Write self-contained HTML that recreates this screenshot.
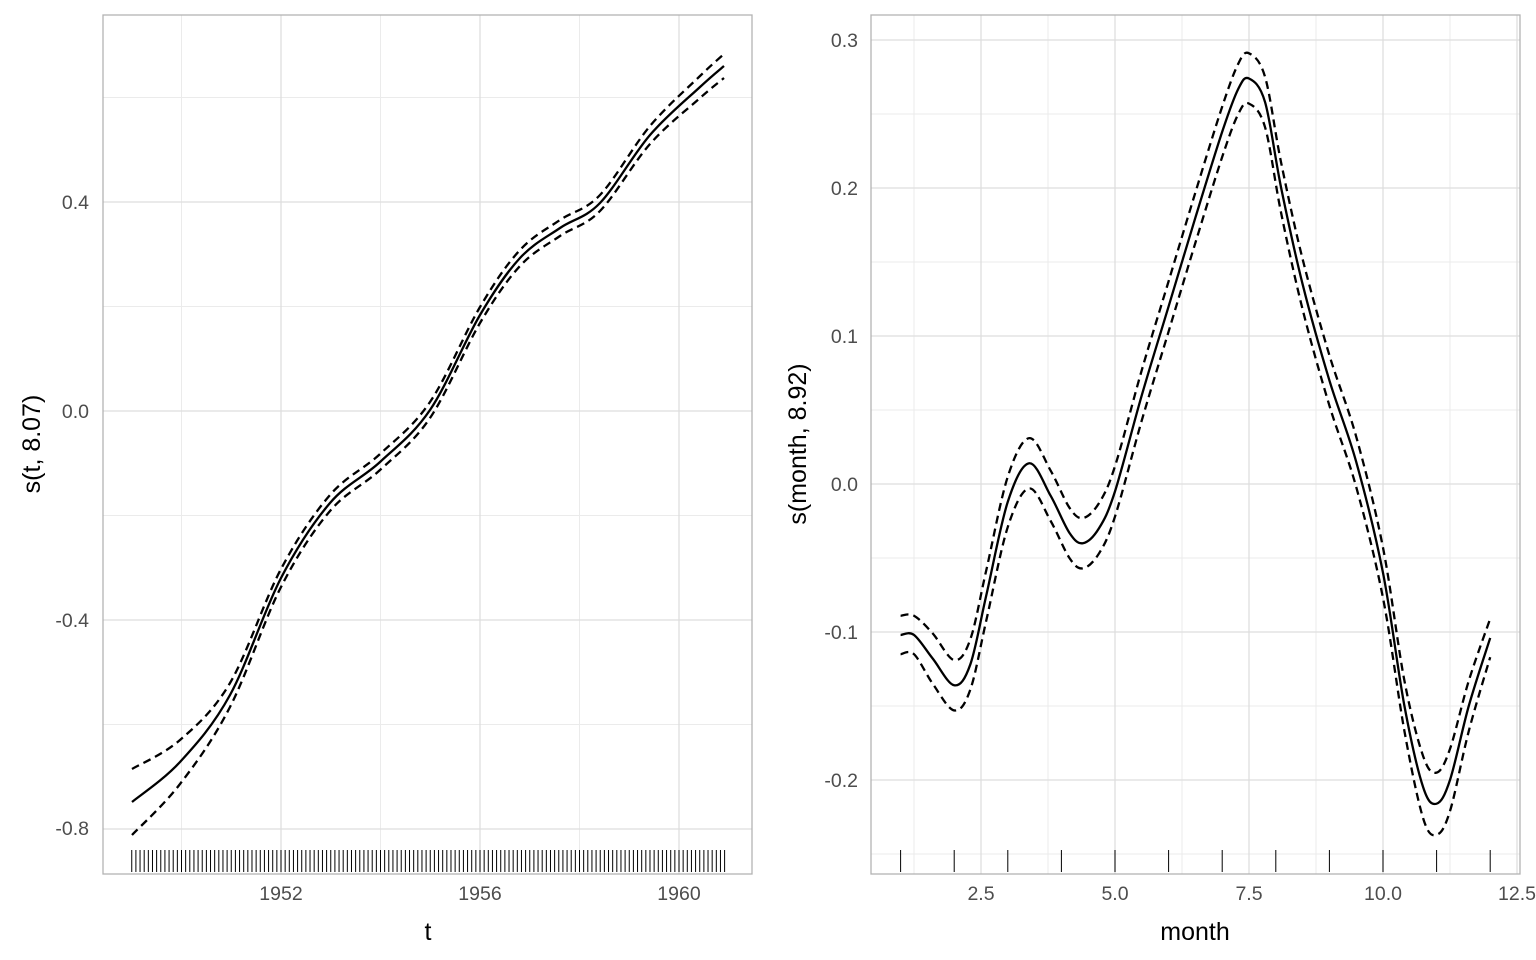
<!DOCTYPE html>
<html><head><meta charset="utf-8"><style>
html,body{margin:0;padding:0;background:#fff;}
svg{display:block;font-family:"Liberation Sans",Arial,sans-serif;}
</style></head><body>
<svg id="s" width="1536" height="960" xmlns="http://www.w3.org/2000/svg">
<rect width="1536" height="960" fill="#fff"/>
<g id="g"></g>
<g font-size="19.5" fill="#4d4d4d" text-anchor="end">
<text x="89" y="209">0.4</text>
<text x="89" y="418">0.0</text>
<text x="89" y="627">-0.4</text>
<text x="89" y="835">-0.8</text>
</g>
<g font-size="19.5" fill="#4d4d4d" text-anchor="middle">
<text x="281" y="900">1952</text>
<text x="480" y="900">1956</text>
<text x="679" y="900">1960</text>
</g>
<text x="428" y="940" font-size="25" text-anchor="middle">t</text>
<text transform="translate(40,444) rotate(-90)" font-size="25" text-anchor="middle">s(t, 8.07)</text>
<g font-size="19.5" fill="#4d4d4d" text-anchor="end">
<text x="858" y="47">0.3</text>
<text x="858" y="195">0.2</text>
<text x="858" y="343">0.1</text>
<text x="858" y="491">0.0</text>
<text x="858" y="639">-0.1</text>
<text x="858" y="787">-0.2</text>
</g>
<g font-size="19.5" fill="#4d4d4d" text-anchor="middle">
<text x="981" y="900">2.5</text>
<text x="1115" y="900">5.0</text>
<text x="1249" y="900">7.5</text>
<text x="1383" y="900">10.0</text>
<text x="1517" y="900">12.5</text>
</g>
<text x="1195" y="940" font-size="25" text-anchor="middle">month</text>
<text transform="translate(806,444) rotate(-90)" font-size="25" text-anchor="middle">s(month, 8.92)</text>
</svg>
<script>
var g=document.getElementById('g'),NS='http://www.w3.org/2000/svg';
function el(t,a){var e=document.createElementNS(NS,t);for(var k in a)e.setAttribute(k,a[k]);g.appendChild(e);return e;}
function line(x1,y1,x2,y2,c,w){el('line',{x1:x1,y1:y1,x2:x2,y2:y2,stroke:c,'stroke-width':w});}
function cr(p){var d='M'+p[0][0]+','+p[0][1];for(var i=0;i<p.length-1;i++){var p0=p[i-1]||p[i],p1=p[i],p2=p[i+1],p3=p[i+2]||p2;
d+=' C'+(p1[0]+(p2[0]-p0[0])/6)+','+(p1[1]+(p2[1]-p0[1])/6)+' '+(p2[0]-(p3[0]-p1[0])/6)+','+(p2[1]-(p3[1]-p1[1])/6)+' '+p2[0]+','+p2[1];}return d;}
function curve(p,dash){var a={d:cr(p),fill:'none',stroke:'#000','stroke-width':2.3};if(dash)a['stroke-dasharray']='8,5';el('path',a);}
var L={x0:103,x1:752,y0:15,y1:874};
function lx(v){return 281+(v-1952)*49.75;} function ly(v){return 411-v*522.5;}
[0.6,0.2,-0.2,-0.6].forEach(function(v){line(L.x0,ly(v),L.x1,ly(v),'#ebebeb',1);});
[1950,1954,1958].forEach(function(v){line(lx(v),L.y0,lx(v),L.y1,'#ebebeb',1);});
[0.4,0,-0.4,-0.8].forEach(function(v){line(L.x0,ly(v),L.x1,ly(v),'#dedede',1.3);});
[1952,1956,1960].forEach(function(v){line(lx(v),L.y0,lx(v),L.y1,'#dedede',1.3);});
el('rect',{x:L.x0,y:L.y0,width:L.x1-L.x0,height:L.y1-L.y0,fill:'none',stroke:'#b3b3b3','stroke-width':1.3});
for(var i=0;i<144;i++){var x=lx(1949+i/12);line(x,850,x,872,'#000',1);}
var ls=[[132,802],[180,762],[230,695],[281,578],[330,503],[380,462],[430,410],[480,315],[520,258],[560,228],[600,203],[650,135],[700,87],[724,66]];
var hw=[33,22,12,9,8,8,8,8,8,8,8,9,11,12];
curve(ls);curve(ls.map(function(p,i){return [p[0],p[1]-hw[i]];}),1);curve(ls.map(function(p,i){return [p[0],p[1]+hw[i]];}),1);
var R={x0:871,x1:1520,y0:15,y1:874};
function rx(v){return 981+(v-2.5)*53.6;} function ry(v){return 484-v*1480;}
[0.25,0.15,0.05,-0.05,-0.15,-0.25].forEach(function(v){line(R.x0,ry(v),R.x1,ry(v),'#ebebeb',1);});
[1.25,3.75,6.25,8.75,11.25].forEach(function(v){line(rx(v),R.y0,rx(v),R.y1,'#ebebeb',1);});
[0.3,0.2,0.1,0,-0.1,-0.2].forEach(function(v){line(R.x0,ry(v),R.x1,ry(v),'#dedede',1.3);});
[2.5,5,7.5,10,12.5].forEach(function(v){line(rx(v),R.y0,rx(v),R.y1,'#dedede',1.3);});
el('rect',{x:R.x0,y:R.y0,width:R.x1-R.x0,height:R.y1-R.y0,fill:'none',stroke:'#b3b3b3','stroke-width':1.3});
for(var m=1;m<=12;m++){line(rx(m),850,rx(m),872,'#000',1);}
var rd=[[1,-0.102],[1.25,-0.102],[1.6,-0.118],[2,-0.136],[2.3,-0.122],[2.6,-0.075],[3,-0.012],[3.4,0.014],[3.8,-0.008],[4.15,-0.033],[4.4,-0.04],[4.7,-0.03],[5,-0.005],[5.5,0.06],[6,0.12],[6.5,0.18],[7,0.238],[7.3,0.267],[7.5,0.274],[7.8,0.258],[8.1,0.2],[8.5,0.135],[9,0.07],[9.5,0.015],[10,-0.06],[10.4,-0.15],[10.75,-0.205],[11,-0.216],[11.25,-0.2],[11.6,-0.15],[12,-0.104]];
function band(m){return (m<1.5||m>11.7)?0.013:0.017;}
curve(rd.map(function(p){return [rx(p[0]),ry(p[1])];}));
curve(rd.map(function(p){return [rx(p[0]),ry(p[1]+band(p[0])+(p[0]>10.5&&p[0]<11.5?0.004:0))];}),1);
curve(rd.map(function(p){return [rx(p[0]),ry(p[1]-band(p[0])-(p[0]>10.5&&p[0]<11.5?0.004:0))];}),1);
</script>
</body></html>
